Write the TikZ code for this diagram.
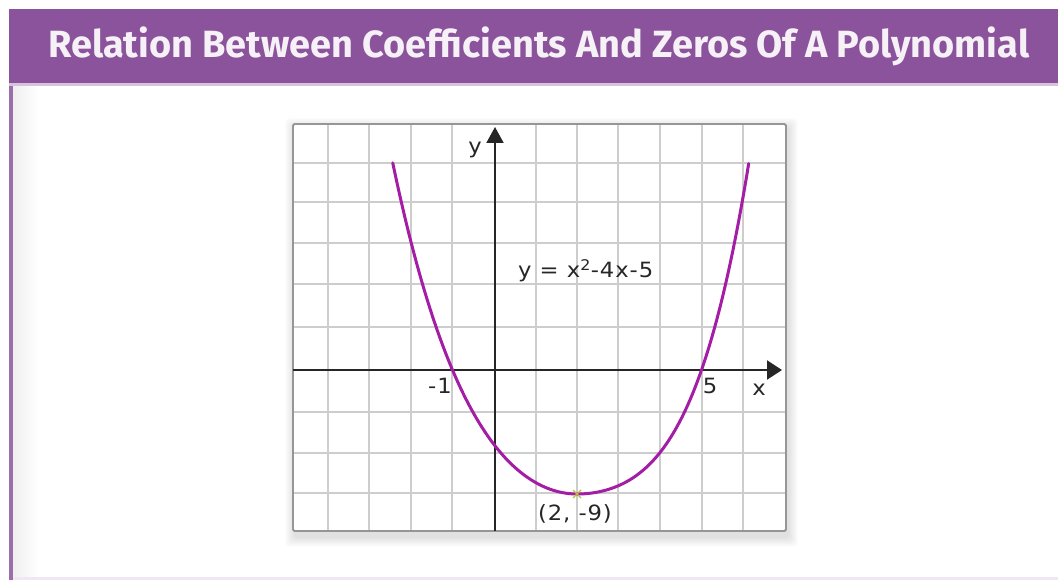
\documentclass[tikz,border=0pt]{standalone}
\usepackage{graphicx}
\usepackage{fontspec}
\setmainfont{DejaVu Sans}
\newfontfamily\lblfont[LetterSpace=4]{DejaVu Sans}
\newfontfamily\titlefont{Fira Sans}
\usetikzlibrary{arrows.meta}
\definecolor{hdr}{RGB}{139,83,156}
\definecolor{hdrline}{RGB}{214,196,222}
\definecolor{curvec}{RGB}{163,30,165}
\definecolor{gridc}{RGB}{205,205,205}
\definecolor{bord}{RGB}{150,150,150}
\definecolor{markc}{RGB}{190,190,60}
\definecolor{titlec}{RGB}{246,240,247}
\newcommand{\widelbl}[1]{\scalebox{1.08}[1]{#1}}
\begin{document}
\begin{tikzpicture}[x=1pt,y=-1pt,
  lbl/.style={font=\lblfont\fontsize{21}{21}\selectfont, text=black!85, inner sep=0pt},
  gridline/.style={draw=gridc, line width=1.6pt},
  axisline/.style={draw=black!85, line width=2pt},
  curveline/.style={draw=curvec, line width=3pt, line cap=round},
  ]
\useasboundingbox (0,0) rectangle (1058,580);
\fill[white] (0,0) rectangle (1058,580);
% frame and header
\fill[hdr] (9,9.5) rectangle (1058,83.5);
\fill[hdrline] (9,83.5) rectangle (1058,86);
\fill[hdr!85] (9,86) rectangle (12.5,580);
\foreach \i in {1,...,8} {\fill[black,opacity=0.006] (12.5,86) rectangle (12.5+3*\i,580);}
\fill[hdrline!40] (12.5,577) rectangle (1058,580);
\node[anchor=base west, inner sep=0pt, text=titlec] (title) at (48,58)
  {\resizebox{981pt}{!}{\titlefont\bfseries Relation Between Coefficients And Zeros Of A Polynomial}};
% grid shadow
\foreach \i in {1,...,10} {\fill[black,opacity=0.012,rounded corners=4pt] (293-\i+2,124-\i+4) rectangle (786+\i+2,531+\i+6);}
\fill[white] (293,124) rectangle (786,531);
\foreach \gx in {328,369,411,452,536,577,618,660,702,743} \draw[gridline] (\gx,124) -- (\gx,531);
\foreach \gy in {163,202,243,284,327,412,453,493} \draw[gridline] (293,\gy) -- (786,\gy);
\draw[bord, line width=1.8pt, rounded corners=1.5pt] (293,124) rectangle (786,531);
% axes
\coordinate (xs) at (293,370);
\coordinate (xe) at (782,370);
\coordinate (ys) at (495,531);
\coordinate (ye) at (495,127);
\draw[axisline,-{Triangle[length=15pt,width=19pt]}] (xs) -- (xe);
\draw[axisline,-{Triangle[length=16pt,width=17pt]}] (ys) -- (ye);
% curve
\draw[curveline] plot[domain=-1.48:0, samples=80, smooth] ({577+124.5*\x},{494-124*(0.816*\x*\x+0.184*\x*\x*\x*\x)});
\draw[curveline] plot[domain=0:1.38, samples=80, smooth] ({577+124.5*\x},{494-124*(0.555*\x*\x+0.445*\x*\x*\x*\x)});
% vertex mark
\coordinate (vtx) at (577,494);
\draw[markc, line width=1.3pt] ([shift={(-4,-4)}]vtx) -- ([shift={(4,4)}]vtx);
\draw[markc, line width=1.3pt] ([shift={(-4,4)}]vtx) -- ([shift={(4,-4)}]vtx);
% labels
\node[lbl] (ylab) at (475,150) {\widelbl{y}};
\node[lbl, anchor=base west] (eq) at (518,278) {\widelbl{y = x\textsuperscript{2}-4x-5}};
\node[lbl] (m1) at (440,386) {\widelbl{-1}};
\node[lbl] (five) at (710,386) {\widelbl{5}};
\node[lbl] (xlab) at (759,390) {\widelbl{x}};
\node[lbl] (vlab) at (575,514) {\widelbl{(2, -9)}};
\end{tikzpicture}
\end{document}
